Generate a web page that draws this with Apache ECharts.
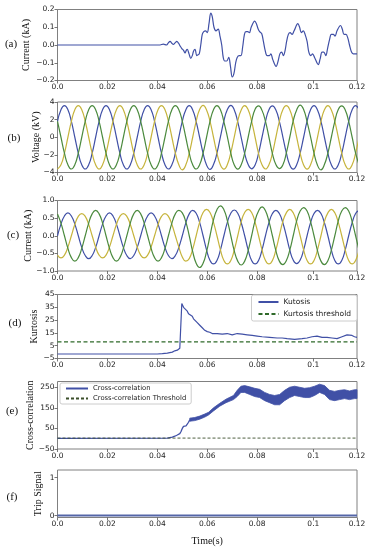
<!DOCTYPE html>
<html><head><meta charset="utf-8">
<script src="https://cdn.jsdelivr.net/npm/echarts@6/dist/echarts.min.js"></script>
<style>html,body{margin:0;padding:0;background:#fff}#c{width:371px;height:550px}</style>
</head><body><div id="c"></div><script>
// ---------- shared tick labels ----------
const xTickVals = [0, 0.02, 0.04, 0.06, 0.08, 0.1025, 0.12];
const xTickLabels = ['0.0', '0.02', '0.04', '0.06', '0.08', '0.1', '0.12'];

// ---------- (a) residual current ----------
const aT = [0, 0.0411, 0.0424, 0.0437, 0.0444, 0.0451, 0.0458, 0.0464, 0.0471, 0.0478, 0.0485, 0.0491, 0.0498, 0.0505, 0.0511, 0.0516, 0.0520, 0.0527, 0.0534, 0.0540, 0.0545, 0.0551, 0.0558, 0.0563,
  0.0568, 0.0574, 0.0580, 0.0586, 0.0593, 0.0600, 0.0607, 0.0614, 0.0620, 0.0627, 0.0635, 0.0644, 0.0651, 0.0658, 0.0664, 0.0670, 0.0678, 0.0686, 0.0693, 0.0700, 0.0707, 0.0714, 0.0720, 0.0728, 0.0735, 0.0742, 0.0749,
  0.0755, 0.0762, 0.0769, 0.0776, 0.0790, 0.0797, 0.0804, 0.0810, 0.0818, 0.0825, 0.0832, 0.0840, 0.0849, 0.0855, 0.0862, 0.0876, 0.0884, 0.0891, 0.0898, 0.0905, 0.0912, 0.0918, 0.0925,
  0.0932, 0.0940, 0.0948, 0.0963, 0.0970, 0.0977, 0.0985, 0.0992, 0.1000, 0.1007, 0.1015, 0.1022, 0.1030, 0.1045, 0.1052, 0.1060, 0.1067, 0.1075, 0.1082, 0.1090, 0.1097,
  0.1105, 0.1112, 0.1120, 0.1134, 0.1141, 0.1148, 0.1156, 0.1163, 0.1170, 0.1178, 0.1185, 0.1192, 0.1200];
const aI = [0, 0, 0.005, 0.0, 0.012, 0.02, 0.01, 0.003, 0.012, 0.02, 0.01, -0.005, -0.02, -0.03, -0.045, -0.03, -0.025, -0.05, -0.075, -0.06, -0.035, -0.025, -0.06, -0.055,
  -0.05, 0.0, 0.06, 0.075, 0.08, 0.07, 0.12, 0.18, 0.16, 0.10, 0.08, 0.09, 0.05, 0.0, -0.07, -0.09, -0.09, -0.07, -0.12, -0.18, -0.16, -0.10, -0.07, -0.06, -0.06, -0.01, 0.06,
  0.075, 0.075, 0.07, 0.10, 0.135, 0.12, 0.09, 0.075, 0.065, 0.02, -0.03, -0.06, -0.06, -0.05, -0.08, -0.12, -0.09, -0.05, -0.04, -0.06, -0.03, 0.02, 0.06,
  0.07, 0.06, 0.08, 0.12, 0.10, 0.07, 0.08, 0.06, 0.02, -0.04, -0.06, -0.05, -0.07, -0.11, -0.08, -0.04, -0.04, -0.06, -0.02, 0.03, 0.06,
  0.06, 0.05, 0.08, 0.11, 0.09, 0.06, 0.06, 0.04, 0.0, -0.04, -0.05, -0.05, -0.05];

// ---------- (b),(c) sample times (30 degree steps of a 60 Hz cycle) ----------
const T = [0, .00139, .00278, .00417, .00556, .00694, .00833, .00972, .01111, .0125, .01389, .01528,
  .01667, .01806, .01944, .02083, .02222, .02361, .025, .02639, .02778, .02917, .03056, .03194,
  .03333, .03472, .03611, .0375, .03889, .04028, .04167, .04306, .04444, .04583, .04722, .04861,
  .05, .05139, .05278, .05417, .05556, .05694, .05833, .05972, .06111, .0625, .06389, .06528,
  .06667, .06806, .06944, .07083, .07222, .07361, .075, .07639, .07778, .07917, .08056, .08194,
  .08333, .08472, .08611, .0875, .08889, .09028, .09167, .09306, .09444, .09583, .09722, .09861,
  .1, .10139, .10278, .10417, .10556, .10694, .10833, .10972, .11111, .1125, .11389, .11528,
  .11667, .11806, .11944, .12083];

// (b) voltages, kV
const vBlue = [1.8, 3.12, 3.6, 3.12, 1.8, 0, -1.8, -3.12, -3.6, -3.12, -1.8, 0,
  1.8, 3.12, 3.6, 3.12, 1.8, 0, -1.8, -3.12, -3.6, -3.12, -1.8, 0,
  1.8, 3.12, 3.6, 3.12, 1.8, 0, -1.8, -3.12, -3.6, -3.12, -1.8, 0,
  1.8, 3.1, 3.58, 3.1, 1.78, 0, -1.8, -3.15, -3.65, -3.1, -1.8, 0.05,
  1.85, 3.15, 3.62, 3.1, 1.75, -0.05, -1.85, -3.1, -3.58, -3.15, -1.8, 0,
  1.8, 3.12, 3.55, 3.08, 1.8, 0.05, -1.75, -3.15, -3.62, -3.12, -1.8, 0,
  1.82, 3.12, 3.6, 3.1, 1.8, 0, -1.8, -3.12, -3.6, -3.12, -1.8, 0,
  1.8, 3.12, 3.6, 3.12];
const vYellow = [-3.6, -3.12, -1.8, 0, 1.8, 3.12, 3.6, 3.12, 1.8, 0, -1.8, -3.12,
  -3.6, -3.12, -1.8, 0, 1.8, 3.12, 3.6, 3.12, 1.8, 0, -1.8, -3.12,
  -3.6, -3.12, -1.8, 0, 1.8, 3.12, 3.6, 3.12, 1.8, 0, -1.8, -3.12,
  -3.7, -3.15, -1.8, 0, 1.8, 3.15, 3.62, 3.1, 1.8, 0, -1.8, -3.15,
  -3.62, -3.1, -1.75, 0.05, 1.85, 3.1, 3.58, 3.12, 1.8, 0, -1.85, -3.12,
  -3.6, -3.12, -1.8, 0, 1.8, 3.12, 3.58, 3.12, 1.8, 0, -1.8, -3.15,
  -3.62, -3.12, -1.8, 0, 1.8, 3.12, 3.6, 3.1, 1.8, 0, -1.8, -3.12,
  -3.6, -3.12, -1.8, 0];
const vGreen = [1.8, 0, -1.8, -3.12, -3.6, -3.12, -1.8, 0, 1.8, 3.12, 3.6, 3.12,
  1.8, 0, -1.8, -3.12, -3.6, -3.12, -1.8, 0, 1.8, 3.12, 3.6, 3.12,
  1.8, 0, -1.8, -3.12, -3.6, -3.12, -1.8, 0, 1.8, 3.12, 3.6, 3.12,
  1.8, 0, -1.8, -3.12, -3.6, -3.12, -1.8, 0, 1.8, 3.12, 3.6, 3.12,
  1.75, 0.05, -1.8, -3.15, -3.62, -3.12, -1.8, 0, 1.8, 3.18, 3.55, 3.05,
  1.8, 0, -1.85, -3.1, -3.55, -3.15, -1.8, 0, 1.85, 3.1, 3.65, 3.15,
  1.75, 0.05, -1.8, -3.18, -3.7, -3.1, -1.8, 0, 1.8, 3.15, 3.55, 3.1,
  1.8, 0, -1.8, -3.12];

// (c) phase currents, kA
const iBlue = [0, .33, .56, .65, .56, .33, 0, -.33, -.56, -.65, -.56, -.33,
  0, .33, .56, .65, .56, .33, 0, -.33, -.56, -.65, -.56, -.33,
  0, .33, .56, .65, .56, .33, 0, -.33, -.56, -.65, -.56, -.33,
  0, .36, .62, .72, .64, .38, 0, -.4, -.7, -.8, -.7, -.4,
  0, .38, .64, .73, .64, .37, 0, -.4, -.7, -.8, -.7, -.4,
  0, .37, .63, .72, .63, .37, 0, -.4, -.69, -.79, -.69, -.4,
  0, .37, .63, .72, .63, .37, 0, -.4, -.7, -.8, -.7, -.4,
  0, .37, .63, .72];
const iYellow = [-.55, -.63, -.55, -.32, 0, .32, .55, .63, .55, .32, 0, -.32,
  -.55, -.63, -.55, -.32, 0, .32, .55, .63, .55, .32, 0, -.32,
  -.55, -.63, -.55, -.32, 0, .32, .55, .63, .55, .32, 0, -.32,
  -.6, -.72, -.65, -.38, 0, .38, .66, .75, .66, .38, 0, -.4,
  -.7, -.8, -.7, -.4, 0, .4, .66, .75, .66, .38, 0, -.4,
  -.7, -.8, -.7, -.4, 0, .4, .65, .75, .65, .38, 0, -.4,
  -.7, -.8, -.7, -.4, 0, .4, .65, .75, .65, .38, 0, -.4,
  -.7, -.8, -.7, -.4];
const iGreen = [.62, .36, 0, -.36, -.62, -.72, -.62, -.36, 0, .36, .62, .72,
  .62, .36, 0, -.36, -.62, -.72, -.62, -.36, 0, .36, .62, .72,
  .62, .36, 0, -.36, -.62, -.72, -.62, -.36, 0, .36, .62, .72,
  .65, .4, 0, -.45, -.78, -.9, -.78, -.45, 0, .45, .74, .85,
  .74, .43, 0, -.43, -.72, -.83, -.72, -.42, 0, .43, .7, .82,
  .71, .41, 0, -.42, -.72, -.82, -.71, -.41, 0, .42, .7, .8,
  .7, .4, 0, -.42, -.72, -.82, -.71, -.41, 0, .42, .7, .8,
  .7, .4, 0, -.42];

// ---------- (d) kurtosis ----------
const dT = [0, 0.040, 0.042, 0.044, 0.046, 0.0465, 0.047, 0.048, 0.0485, 0.049, 0.0497, 0.0498, 0.0505, 0.051, 0.052, 0.0525, 0.053, 0.054, 0.0545, 0.055, 0.056, 0.057, 0.058, 0.059, 0.060, 0.061, 0.062, 0.064, 0.066, 0.068, 0.070, 0.072, 0.074, 0.076, 0.078, 0.080, 0.082, 0.085, 0.088, 0.090, 0.092, 0.095, 0.098, 0.100, 0.102, 0.104, 0.106, 0.108, 0.110, 0.112, 0.114, 0.116, 0.118, 0.119, 0.120];
const dK = [-1.5, -1.5, -1.2, -0.8, 0, 0.5, 1, 1.5, 2.5, 3, 3, 38, 35, 33.5, 32, 30, 29.5, 28, 26, 25.5, 23, 21, 19, 17, 16, 15.5, 14.5, 14.5, 14, 14.5, 13.5, 14.5, 14, 13.5, 13, 12.5, 12, 11.5, 11, 11, 10.5, 10, 10.5, 11, 12, 12.5, 11.5, 11.5, 11, 10.5, 12, 13.5, 13, 12, 11.5];
const kurtThreshold = 8;

// ---------- (e) cross-correlation ----------
const eT = [0, 0.044, 0.046, 0.047, 0.048, 0.049, 0.0495, 0.0500, 0.0505, 0.0515, 0.052, 0.0525, 0.053];
const eC = [2, 3, 8, 12, 18, 25, 35, 50, 60, 62, 66, 80, 92];
const eBandT = [0.053, 0.055, 0.057, 0.059, 0.0605, 0.0625, 0.065, 0.0675, 0.0705, 0.072, 0.0735, 0.075, 0.077, 0.079, 0.081, 0.083, 0.085, 0.087, 0.089, 0.091, 0.093, 0.095, 0.097, 0.099, 0.101, 0.103, 0.105, 0.107, 0.109, 0.111, 0.113, 0.115, 0.117, 0.119, 0.120];
const eLow = [85, 88, 95, 105, 115, 135, 158, 175, 190, 205, 225, 225, 215, 205, 200, 185, 175, 165, 165, 185, 200, 210, 205, 200, 200, 210, 225, 215, 190, 185, 190, 195, 190, 195, 195];
const eHigh = [100, 103, 110, 120, 128, 150, 172, 192, 210, 235, 255, 258, 252, 245, 240, 225, 215, 210, 215, 235, 250, 255, 250, 245, 248, 255, 265, 258, 235, 230, 235, 238, 232, 238, 238];
const ccThreshold = 3;

// ---------- (f) trip signal ----------
const fT = [0, 0.12];
const fS = [0, 0];

// ---------- styling ----------
const BLUE = '#4050a6', YEL = '#c6b43c', GRN = '#4b8a3e', DGRN = '#2f6a2a';
const SANS = 'DejaVu Sans', SERIF = 'Liberation Serif';
const pairs = (xs, ys) => xs.map((x, i) => [x, ys[i]]);

const grids = [
  {top: 9.5, height: 71},
  {top: 102, height: 70.5},
  {top: 200.5, height: 70.5},
  {top: 294.5, height: 64},
  {top: 381.5, height: 67.5},
  {top: 470, height: 47.5}
].map(g => ({left: 57.5, width: 299.5, top: g.top, height: g.height, show: true, borderColor: '#808080', borderWidth: 1}));

const yDefs = [
  {min: -0.2, max: 0.2, vals: [-0.2, -0.1, 0, 0.1, 0.2], fmt: v => v.toFixed(1), name: 'Current (kA)', gap: 26},
  {min: -4, max: 4, vals: [-4, -2, 0, 2, 4], fmt: v => String(v), name: 'Voltage (kV)', gap: 16},
  {min: -1, max: 1, vals: [-1, -0.5, 0, 0.5, 1], fmt: v => v.toFixed(1), name: 'Current (kA)', gap: 24},
  {min: -5, max: 45, vals: [-5, 5, 15, 25, 35, 45], fmt: v => String(v), name: 'Kurtosis', gap: 18.5},
  {min: -50, max: 278, vals: [-50, 50, 150, 250], fmt: v => String(v), name: 'Cross-correlation', gap: 22.5},
  {min: -0.05, max: 1.2, vals: [0, 1], fmt: v => String(v), name: 'Trip Signal', gap: 14.5}
];
const minus = s => s.replace('-', '\u2212');

const xAxis = grids.map((g, i) => ({
  type: 'value', gridIndex: i, min: 0, max: 0.12, position: 'bottom',
  axisLine: {show: false, onZero: false}, splitLine: {show: false},
  axisTick: {show: true, length: 3, lineStyle: {color: '#555', width: 0.8}, customValues: xTickVals},
  axisLabel: {customValues: xTickVals, fontFamily: SANS, fontSize: 7.5, color: '#222', margin: 3,
    formatter: v => { let b = 0; xTickVals.forEach((t, k) => { if (Math.abs(t - v) < Math.abs(xTickVals[b] - v)) b = k; }); return xTickLabels[b]; }},
  name: i === 5 ? 'Time(s)' : '', nameLocation: 'middle', nameGap: 19, nameMoveOverlap: false,
  nameTextStyle: {fontFamily: SERIF, fontSize: 10, color: '#111'}
}));
const yAxis = yDefs.map((d, i) => ({
  type: 'value', gridIndex: i, min: d.min, max: d.max, position: 'left',
  axisLine: {show: false, onZero: false}, splitLine: {show: false},
  axisTick: {show: true, length: 3, lineStyle: {color: '#555', width: 0.8}, customValues: d.vals},
  axisLabel: {customValues: d.vals, fontFamily: SANS, fontSize: 7.5, color: '#222', margin: 3,
    formatter: v => minus(d.fmt(v))},
  name: d.name, nameLocation: 'middle', nameGap: d.gap, nameRotate: 90, nameMoveOverlap: false,
  nameTextStyle: {fontFamily: SERIF, fontSize: 10, color: '#111'}
}));

const line = (name, gi, data, color, extra) => Object.assign({
  type: 'line', name, xAxisIndex: gi, yAxisIndex: gi, data, symbol: 'none', showSymbol: false,
  lineStyle: {color, width: 1.2}, itemStyle: {color}, animation: false, silent: true
}, extra || {});

const series = [
  line('a', 0, pairs(aT, aI), BLUE, {smooth: 0.35}),
  line('vb', 1, pairs(T, vBlue), BLUE, {smooth: 0.5}),
  line('vy', 1, pairs(T, vYellow), YEL, {smooth: 0.5}),
  line('vg', 1, pairs(T, vGreen), GRN, {smooth: 0.5}),
  line('ib', 2, pairs(T, iBlue), BLUE, {smooth: 0.5}),
  line('iy', 2, pairs(T, iYellow), YEL, {smooth: 0.5}),
  line('ig', 2, pairs(T, iGreen), GRN, {smooth: 0.5}),
  line('Kutosis', 3, pairs(dT, dK), BLUE),
  line('Kurtosis threshold', 3, [[0, kurtThreshold], [0.12, kurtThreshold]], DGRN, {lineStyle: {color: DGRN, width: 1.4, type: [4, 2.5]}}),
  line('Cross-correlation', 4, pairs(eT, eC), BLUE, {lineStyle: {color: BLUE, width: 1.3}, z: 3}),
  {
    type: 'custom', name: 'ccBand', xAxisIndex: 4, yAxisIndex: 4, coordinateSystem: 'cartesian2d',
    data: [[eBandT[0], eLow[0]]], silent: true, animation: false, clip: true, z: 2,
    renderItem: (params, api) => {
      const up = eBandT.map((t, i) => api.coord([t, eHigh[i]]));
      const lo = eBandT.map((t, i) => api.coord([t, eLow[i]])).reverse();
      return {type: 'polygon', shape: {points: up.concat(lo)}, style: {fill: BLUE, stroke: BLUE, lineWidth: 0.8}};
    }
  },
  line('Cross-correlation Threshold', 4, [[0, ccThreshold], [0.12, ccThreshold]], '#3b4f2a', {lineStyle: {color: '#3b4f2a', width: 0.9, type: [3, 2]}, z: 4}),
  line('trip', 5, pairs(fT, fS), '#5566a8', {lineStyle: {color: '#5566a8', width: 2}})
];

const letters = [['(a)', 11, 44], ['(b)', 14, 138], ['(c)', 13, 235], ['(d)', 15, 323], ['(e)', 12, 411], ['(f)', 12, 497]];

const option = {
  animation: false,
  backgroundColor: '#fff',
  grid: grids, xAxis, yAxis, series,
  legend: [
    {data: ['Kutosis', 'Kurtosis threshold'], orient: 'vertical', right: 14, top: 295,
      itemWidth: 20, itemHeight: 8, itemGap: 4, padding: [3, 6, 3, 6],
      itemStyle: {opacity: 0},
      borderColor: '#cccccc', borderWidth: 1, borderRadius: 2, backgroundColor: '#fff',
      textStyle: {fontFamily: SANS, fontSize: 7.5, color: '#222'}, selectedMode: false},
    {data: ['Cross-correlation', 'Cross-correlation Threshold'], orient: 'vertical', left: 60, top: 383,
      itemWidth: 22, itemHeight: 6, itemGap: 3, padding: [2, 5, 2, 5],
      itemStyle: {opacity: 0},
      borderColor: '#cccccc', borderWidth: 1, borderRadius: 2, backgroundColor: '#fff',
      textStyle: {fontFamily: SANS, fontSize: 6.8, color: '#222'}, selectedMode: false}
  ],
  graphic: letters.map(l => ({type: 'text', x: l[1], y: l[2],
    style: {text: l[0], font: '11px "Liberation Serif"', fill: '#111', textAlign: 'center', textVerticalAlign: 'middle'}}))
};
const chart = echarts.init(document.getElementById('c'), null, {renderer: 'canvas'});
chart.setOption(option);
</script></body></html>
